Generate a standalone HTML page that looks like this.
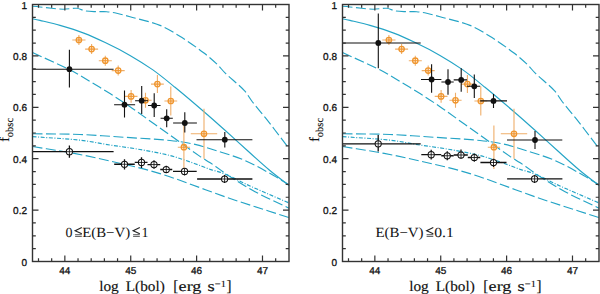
<!DOCTYPE html>
<html><head><meta charset="utf-8"><style>
html,body{margin:0;padding:0;background:#fff;width:600px;height:294px;overflow:hidden}
svg{display:block;text-rendering:geometricPrecision}
.tk{font-family:"Liberation Sans",sans-serif;font-size:10px;fill:#111;stroke:#111;stroke-width:0.3px}
.sf{font-family:"Liberation Serif",serif;fill:#111;}
.xl{stroke:#111;stroke-width:0.15px}
</style></head><body>
<svg width="600" height="294" viewBox="0 0 600 294">
<g transform="translate(0,0)">
<path d="M32.5,18.8 C35.0,19.3 37.5,19.8 40.0,20.4 C46.7,22.0 53.4,23.5 60.0,25.4 C68.0,27.7 76.0,30.1 83.8,33.1 C91.1,35.9 98.2,39.2 105.2,42.6 C113.6,46.6 121.9,50.8 130.0,55.4 C137.8,59.9 145.5,64.7 152.9,69.9 C160.5,75.3 167.8,81.4 175.0,87.3 C184.8,95.3 194.4,103.5 204.0,111.8 C211.1,117.9 218.0,124.1 225.0,130.3 C232.7,137.2 240.2,144.1 247.9,151.0 C255.0,157.4 262.0,163.9 269.3,170.0 C275.7,175.4 282.4,180.3 289.0,185.5" fill="none" stroke="#24a4c6" stroke-width="1.15" />
<path d="M32.5,6.3 C35.0,6.5 37.5,6.7 40.0,7.0 C43.9,7.4 47.8,7.9 51.7,8.3 C55.6,8.7 59.4,9.2 63.3,9.2 C67.8,9.2 72.3,8.0 76.7,8.3 C79.5,8.5 82.2,10.3 85.0,10.8 C88.8,11.5 92.8,11.5 96.7,11.7 C100.0,11.8 103.4,11.4 106.7,11.7 C110.1,12.0 113.4,12.6 116.7,13.3 C121.2,14.3 125.6,15.5 130.0,16.7 C140.0,19.5 150.4,21.5 160.0,25.4 C167.7,28.5 174.9,33.2 182.0,37.6 C189.6,42.4 196.9,47.6 204.0,53.0 C208.7,56.6 213.2,60.5 217.5,64.6 C220.2,67.2 222.3,70.3 225.0,72.9 C231.3,79.0 238.4,84.3 244.4,90.6 C247.6,94.0 249.7,98.3 252.5,102.0 C257.2,108.0 262.2,113.7 266.9,119.7 C274.4,129.2 281.6,138.9 289.0,148.5" fill="none" stroke="#24a4c6" stroke-width="1.15" stroke-dasharray="10 3.5"/>
<path d="M32.5,52.5 C44.8,58.2 57.2,63.6 69.4,69.5 C73.1,71.3 76.5,73.4 80.0,75.5 C90.0,81.5 100.1,87.4 110.0,93.6 C116.8,97.8 123.4,102.2 130.0,106.7 C136.1,110.8 142.0,115.2 148.0,119.5 C152.0,122.3 156.0,125.2 160.0,128.0 C166.3,132.5 172.7,137.0 179.0,141.5 C186.3,146.7 193.6,152.0 201.0,157.1 C204.0,159.1 207.2,160.8 210.2,162.8 C213.7,165.1 217.0,167.5 220.4,169.9 C223.8,172.3 227.1,174.8 230.6,177.0 C238.5,182.0 246.4,187.1 254.6,191.5 C265.8,197.5 277.5,202.6 289.0,208.2" fill="none" stroke="#24a4c6" stroke-width="1.15" stroke-dasharray="10 3.5"/>
<path d="M32.5,133.7 C48.3,134.0 64.2,133.9 80.0,134.5 C93.3,135.0 106.7,136.1 120.0,137.0 C136.7,138.1 153.4,138.9 170.0,140.5 C178.4,141.3 186.8,142.5 195.0,144.4 C203.6,146.4 212.1,149.3 220.5,152.0 C228.7,154.6 237.1,157.0 245.0,160.5 C255.0,164.9 264.5,170.4 274.0,175.7 C279.1,178.6 284.0,181.9 289.0,185.0" fill="none" stroke="#24a4c6" stroke-width="1.15" stroke-dasharray="10 3.5"/>
<path d="M32.5,146.5 C46.4,148.8 60.4,150.8 74.2,153.4 C86.2,155.6 98.1,158.2 110.0,161.0 C126.7,164.9 143.6,168.5 160.0,173.6 C182.4,180.6 204.1,189.6 226.3,197.2 C247.1,204.3 268.1,210.8 289.0,217.6" fill="none" stroke="#24a4c6" stroke-width="1.15" stroke-dasharray="10 3.5"/>
<path d="M32.5,136.6 C48.3,137.8 64.2,138.5 80.0,140.2 C90.1,141.3 100.0,143.4 110.0,145.0 C120.0,146.5 130.0,147.8 140.0,149.5 C150.0,151.3 160.1,153.0 170.0,155.5 C178.5,157.7 186.7,160.8 195.0,163.7 C200.1,165.5 205.1,167.6 210.2,169.4 C213.6,170.5 217.1,171.2 220.4,172.4 C223.9,173.6 227.3,175.0 230.6,176.5 C235.3,178.6 239.7,181.2 244.4,183.4 C251.2,186.6 258.1,189.6 265.0,192.6 C273.0,196.1 281.0,199.5 289.0,203.0" fill="none" stroke="#24a4c6" stroke-width="1.15" stroke-dasharray="4 1.6 1 1.6"/>
<path d="M72.3,40.0H85.5M78.9,35.0V45.0" stroke="#efae6a" stroke-width="1.1" fill="none"/>
<circle cx="78.9" cy="40" r="2.7" fill="none" stroke="#f0962e" stroke-width="1.3"/>
<path d="M76.2,40H81.60000000000001M78.9,37.3V42.7" stroke="#f0962e" stroke-width="0.8" fill="none"/>
<path d="M85.1,49.1H98.1M91.6,44.1V54.1" stroke="#efae6a" stroke-width="1.1" fill="none"/>
<circle cx="91.6" cy="49.1" r="2.7" fill="none" stroke="#f0962e" stroke-width="1.3"/>
<path d="M88.89999999999999,49.1H94.3M91.6,46.4V51.800000000000004" stroke="#f0962e" stroke-width="0.8" fill="none"/>
<path d="M98.8,60.7H111.8M105.3,55.7V65.7" stroke="#efae6a" stroke-width="1.1" fill="none"/>
<circle cx="105.3" cy="60.7" r="2.7" fill="none" stroke="#f0962e" stroke-width="1.3"/>
<path d="M102.6,60.7H108.0M105.3,58.0V63.400000000000006" stroke="#f0962e" stroke-width="0.8" fill="none"/>
<path d="M111.7,70.6H124.7M118.2,65.6V75.6" stroke="#efae6a" stroke-width="1.1" fill="none"/>
<circle cx="118.2" cy="70.6" r="2.7" fill="none" stroke="#f0962e" stroke-width="1.3"/>
<path d="M115.5,70.6H120.9M118.2,67.89999999999999V73.3" stroke="#f0962e" stroke-width="0.8" fill="none"/>
<path d="M124.7,96.4H137.5M131.1,90.0V102.8" stroke="#efae6a" stroke-width="1.1" fill="none"/>
<circle cx="131.1" cy="96.4" r="2.7" fill="none" stroke="#f0962e" stroke-width="1.3"/>
<path d="M128.4,96.4H133.79999999999998M131.1,93.7V99.10000000000001" stroke="#f0962e" stroke-width="0.8" fill="none"/>
<path d="M139.4,100.3H151.6M145.5,92.8V107.8" stroke="#efae6a" stroke-width="1.1" fill="none"/>
<circle cx="145.5" cy="100.3" r="2.7" fill="none" stroke="#f0962e" stroke-width="1.3"/>
<path d="M142.8,100.3H148.2M145.5,97.6V103.0" stroke="#f0962e" stroke-width="0.8" fill="none"/>
<path d="M151.0,84.1H163.8M157.4,75.1V93.1" stroke="#efae6a" stroke-width="1.1" fill="none"/>
<circle cx="157.4" cy="84.1" r="2.7" fill="none" stroke="#f0962e" stroke-width="1.3"/>
<path d="M154.70000000000002,84.1H160.1M157.4,81.39999999999999V86.8" stroke="#f0962e" stroke-width="0.8" fill="none"/>
<path d="M164.4,101.0H177.2M170.8,86.5V115.5" stroke="#efae6a" stroke-width="1.1" fill="none"/>
<circle cx="170.8" cy="101" r="2.7" fill="none" stroke="#f0962e" stroke-width="1.3"/>
<path d="M168.10000000000002,101H173.5M170.8,98.3V103.7" stroke="#f0962e" stroke-width="0.8" fill="none"/>
<path d="M177.8,147.2H190.0M183.9,125.5V168.9" stroke="#efae6a" stroke-width="1.1" fill="none"/>
<circle cx="183.9" cy="147.2" r="2.7" fill="none" stroke="#f0962e" stroke-width="1.3"/>
<path d="M181.20000000000002,147.2H186.6M183.9,144.5V149.89999999999998" stroke="#f0962e" stroke-width="0.8" fill="none"/>
<path d="M190.8,133.8H217.2M204.0,108.8V158.8" stroke="#efae6a" stroke-width="1.1" fill="none"/>
<circle cx="204" cy="133.8" r="2.7" fill="none" stroke="#f0962e" stroke-width="1.3"/>
<path d="M201.3,133.8H206.7M204,131.10000000000002V136.5" stroke="#f0962e" stroke-width="0.8" fill="none"/>
<path d="M32.5,151.7H113.6M69.4,145.6V157.8" stroke="#111" stroke-width="1.3" fill="none"/>
<circle cx="69.4" cy="151.7" r="3.1" fill="#fff" stroke="#111" stroke-width="1.05"/>
<path d="M66.30000000000001,151.7H72.5M69.4,148.6V154.79999999999998" stroke="#111" stroke-width="0.85" fill="none"/>
<path d="M114.2,164.25H134.75M124.5,159.3V169.5" stroke="#111" stroke-width="1.3" fill="none"/>
<circle cx="124.5" cy="164.25" r="3.1" fill="#fff" stroke="#111" stroke-width="1.05"/>
<path d="M121.4,164.25H127.6M124.5,161.15V167.35" stroke="#111" stroke-width="0.85" fill="none"/>
<path d="M134.75,162.45H147.5M141.5,157.2V168" stroke="#111" stroke-width="1.3" fill="none"/>
<circle cx="141.5" cy="162.45" r="3.1" fill="#fff" stroke="#111" stroke-width="1.05"/>
<path d="M138.4,162.45H144.6M141.5,159.35V165.54999999999998" stroke="#111" stroke-width="0.85" fill="none"/>
<path d="M147.5,164.55H160.25M154,160.2V168.75" stroke="#111" stroke-width="1.3" fill="none"/>
<circle cx="154" cy="164.55" r="3.1" fill="#fff" stroke="#111" stroke-width="1.05"/>
<path d="M150.9,164.55H157.1M154,161.45000000000002V167.65" stroke="#111" stroke-width="0.85" fill="none"/>
<path d="M160.25,169.5H172.25M166.25,165.75V173.25" stroke="#111" stroke-width="1.3" fill="none"/>
<circle cx="166.25" cy="169.5" r="3.1" fill="#fff" stroke="#111" stroke-width="1.05"/>
<path d="M163.15,169.5H169.35M166.25,166.4V172.6" stroke="#111" stroke-width="0.85" fill="none"/>
<path d="M173,171.45H196.7M184.55,168V175.5" stroke="#111" stroke-width="1.3" fill="none"/>
<circle cx="184.55" cy="171.45" r="3.1" fill="#fff" stroke="#111" stroke-width="1.05"/>
<path d="M181.45000000000002,171.45H187.65M184.55,168.35V174.54999999999998" stroke="#111" stroke-width="0.85" fill="none"/>
<path d="M197.1,179H252.4M224.6,175V183" stroke="#111" stroke-width="1.3" fill="none"/>
<circle cx="224.6" cy="179" r="3.1" fill="#fff" stroke="#111" stroke-width="1.05"/>
<path d="M221.5,179H227.7M224.6,175.9V182.1" stroke="#111" stroke-width="0.85" fill="none"/>
<path d="M32.5,69.2H113.6M69.4,49.8V87.5" stroke="#111" stroke-width="1.1" fill="none"/>
<circle cx="69.4" cy="69.2" r="2.9" fill="#111"/>
<path d="M114.1,104.7H135.1M124.5,90.6V117.4" stroke="#111" stroke-width="1.1" fill="none"/>
<circle cx="124.5" cy="104.7" r="2.9" fill="#111"/>
<path d="M135.1,100.7H148M141.7,86.1V114" stroke="#111" stroke-width="1.1" fill="none"/>
<circle cx="141.7" cy="100.7" r="2.9" fill="#111"/>
<path d="M148,105.5H160.5M154.2,93.3V117" stroke="#111" stroke-width="1.1" fill="none"/>
<circle cx="154.2" cy="105.5" r="2.9" fill="#111"/>
<path d="M160.6,118.3H172.8M166.7,109.2V127.2" stroke="#111" stroke-width="1.1" fill="none"/>
<circle cx="166.7" cy="118.3" r="2.9" fill="#111"/>
<path d="M173.1,123H196.9M184.8,112.2V132.6" stroke="#111" stroke-width="1.1" fill="none"/>
<circle cx="184.8" cy="123" r="2.9" fill="#111"/>
<path d="M196.5,139.7H252.4M224.8,132.1V147.5" stroke="#111" stroke-width="1.1" fill="none"/>
<circle cx="224.8" cy="139.7" r="2.9" fill="#111"/>
<rect x="32.5" y="4.5" width="256.5" height="257" fill="none" stroke="#333" stroke-width="1.4"/>
<path d="M32.5,261.50h6M289,261.50h-6M32.5,248.65h3.3M289,248.65h-3.3M32.5,235.80h3.3M289,235.80h-3.3M32.5,222.95h3.3M289,222.95h-3.3M32.5,210.10h6M289,210.10h-6M32.5,197.25h3.3M289,197.25h-3.3M32.5,184.40h3.3M289,184.40h-3.3M32.5,171.55h3.3M289,171.55h-3.3M32.5,158.70h6M289,158.70h-6M32.5,145.85h3.3M289,145.85h-3.3M32.5,133.00h3.3M289,133.00h-3.3M32.5,120.15h3.3M289,120.15h-3.3M32.5,107.30h6M289,107.30h-6M32.5,94.45h3.3M289,94.45h-3.3M32.5,81.60h3.3M289,81.60h-3.3M32.5,68.75h3.3M289,68.75h-3.3M32.5,55.90h6M289,55.90h-6M32.5,43.05h3.3M289,43.05h-3.3M32.5,30.20h3.3M289,30.20h-3.3M32.5,17.35h3.3M289,17.35h-3.3M32.5,4.50h6M289,4.50h-6M38.50,261.5v-3.3M38.50,4.5v3.3M51.67,261.5v-3.3M51.67,4.5v3.3M64.85,261.5v-6M64.85,4.5v6M78.03,261.5v-3.3M78.03,4.5v3.3M91.20,261.5v-3.3M91.20,4.5v3.3M104.38,261.5v-3.3M104.38,4.5v3.3M117.55,261.5v-3.3M117.55,4.5v3.3M130.73,261.5v-6M130.73,4.5v6M143.91,261.5v-3.3M143.91,4.5v3.3M157.08,261.5v-3.3M157.08,4.5v3.3M170.26,261.5v-3.3M170.26,4.5v3.3M183.43,261.5v-3.3M183.43,4.5v3.3M196.61,261.5v-6M196.61,4.5v6M209.79,261.5v-3.3M209.79,4.5v3.3M222.96,261.5v-3.3M222.96,4.5v3.3M236.14,261.5v-3.3M236.14,4.5v3.3M249.31,261.5v-3.3M249.31,4.5v3.3M262.49,261.5v-6M262.49,4.5v6M275.67,261.5v-3.3M275.67,4.5v3.3" stroke="#333" stroke-width="1.2" fill="none"/>
<text x="27" y="265.5" text-anchor="end" class="tk">0</text>
<text x="27" y="214.1" text-anchor="end" class="tk">0.2</text>
<text x="27" y="162.7" text-anchor="end" class="tk">0.4</text>
<text x="27" y="111.3" text-anchor="end" class="tk">0.6</text>
<text x="27" y="59.9" text-anchor="end" class="tk">0.8</text>
<text x="27" y="8.5" text-anchor="end" class="tk">1</text>
<text x="64.8" y="273.9" text-anchor="middle" class="tk">44</text>
<text x="130.7" y="273.9" text-anchor="middle" class="tk">45</text>
<text x="196.6" y="273.9" text-anchor="middle" class="tk">46</text>
<text x="262.5" y="273.9" text-anchor="middle" class="tk">47</text>
<text class="sf xl" x="99.2" y="291" font-size="14.6" textLength="19.6" lengthAdjust="spacingAndGlyphs">log</text>
<text class="sf xl" x="125.8" y="291" font-size="14.6" textLength="39" lengthAdjust="spacingAndGlyphs">L(bol)</text>
<text class="sf xl" x="173.3" y="291.4" font-size="15.5" textLength="5" lengthAdjust="spacingAndGlyphs">[</text>
<text class="sf xl" x="178.6" y="291" font-size="14.6" textLength="22.8" lengthAdjust="spacingAndGlyphs">erg</text>
<text class="sf xl" x="207.6" y="291" font-size="14.6" textLength="7.2" lengthAdjust="spacingAndGlyphs">s</text>
<text class="sf xl" x="214.8" y="286.8" font-size="9.5" textLength="11" lengthAdjust="spacingAndGlyphs">&#8722;1</text>
<text class="sf xl" x="226.4" y="291.4" font-size="15.5" textLength="5" lengthAdjust="spacingAndGlyphs">]</text>
<text class="sf xl" transform="translate(8.6,141.8) rotate(-90)" font-size="14">f<tspan font-size="10.5" dy="4.8">obsc</tspan></text>
<text class="sf" x="65.6" y="236.5" font-size="14" textLength="7" lengthAdjust="spacingAndGlyphs">0</text><path d="M81.8,227.4L75.1,230.70000000000002L81.8,233.8" fill="none" stroke="#222" stroke-width="1.1"/><path d="M75.1,234.70000000000002H81.8M75.1,236.4H81.8" stroke="#444" stroke-width="0.9"/><text class="sf" x="82.2" y="236.5" font-size="14" textLength="48" lengthAdjust="spacingAndGlyphs">E(B&#8722;V)</text><path d="M139.79999999999998,227.4L133.1,230.70000000000002L139.79999999999998,233.8" fill="none" stroke="#222" stroke-width="1.1"/><path d="M133.1,234.70000000000002H139.79999999999998M133.1,236.4H139.79999999999998" stroke="#444" stroke-width="0.9"/><text class="sf" x="141.4" y="236.5" font-size="14">1</text>
</g>
<g transform="translate(310,0)">
<path d="M32.5,18.8 C35.0,19.3 37.5,19.8 40.0,20.4 C46.7,22.0 53.4,23.5 60.0,25.4 C68.0,27.7 76.0,30.1 83.8,33.1 C91.1,35.9 98.2,39.2 105.2,42.6 C113.6,46.6 121.9,50.8 130.0,55.4 C137.8,59.9 145.5,64.7 152.9,69.9 C160.5,75.3 167.8,81.4 175.0,87.3 C184.8,95.3 194.4,103.5 204.0,111.8 C211.1,117.9 218.0,124.1 225.0,130.3 C232.7,137.2 240.2,144.1 247.9,151.0 C255.0,157.4 262.0,163.9 269.3,170.0 C275.7,175.4 282.4,180.3 289.0,185.5" fill="none" stroke="#24a4c6" stroke-width="1.15" />
<path d="M32.5,6.3 C35.0,6.5 37.5,6.7 40.0,7.0 C43.9,7.4 47.8,7.9 51.7,8.3 C55.6,8.7 59.4,9.2 63.3,9.2 C67.8,9.2 72.3,8.0 76.7,8.3 C79.5,8.5 82.2,10.3 85.0,10.8 C88.8,11.5 92.8,11.5 96.7,11.7 C100.0,11.8 103.4,11.4 106.7,11.7 C110.1,12.0 113.4,12.6 116.7,13.3 C121.2,14.3 125.6,15.5 130.0,16.7 C140.0,19.5 150.4,21.5 160.0,25.4 C167.7,28.5 174.9,33.2 182.0,37.6 C189.6,42.4 196.9,47.6 204.0,53.0 C208.7,56.6 213.2,60.5 217.5,64.6 C220.2,67.2 222.3,70.3 225.0,72.9 C231.3,79.0 238.4,84.3 244.4,90.6 C247.6,94.0 249.7,98.3 252.5,102.0 C257.2,108.0 262.2,113.7 266.9,119.7 C274.4,129.2 281.6,138.9 289.0,148.5" fill="none" stroke="#24a4c6" stroke-width="1.15" stroke-dasharray="10 3.5"/>
<path d="M32.5,52.5 C44.8,58.2 57.2,63.6 69.4,69.5 C73.1,71.3 76.5,73.4 80.0,75.5 C90.0,81.5 100.1,87.4 110.0,93.6 C116.8,97.8 123.4,102.2 130.0,106.7 C136.1,110.8 142.0,115.2 148.0,119.5 C152.0,122.3 156.0,125.2 160.0,128.0 C166.3,132.5 172.7,137.0 179.0,141.5 C186.3,146.7 193.6,152.0 201.0,157.1 C204.0,159.1 207.2,160.8 210.2,162.8 C213.7,165.1 217.0,167.5 220.4,169.9 C223.8,172.3 227.1,174.8 230.6,177.0 C238.5,182.0 246.4,187.1 254.6,191.5 C265.8,197.5 277.5,202.6 289.0,208.2" fill="none" stroke="#24a4c6" stroke-width="1.15" stroke-dasharray="10 3.5"/>
<path d="M32.5,133.7 C48.3,134.0 64.2,133.9 80.0,134.5 C93.3,135.0 106.7,136.1 120.0,137.0 C136.7,138.1 153.4,138.9 170.0,140.5 C178.4,141.3 186.8,142.5 195.0,144.4 C203.6,146.4 212.1,149.3 220.5,152.0 C228.7,154.6 237.1,157.0 245.0,160.5 C255.0,164.9 264.5,170.4 274.0,175.7 C279.1,178.6 284.0,181.9 289.0,185.0" fill="none" stroke="#24a4c6" stroke-width="1.15" stroke-dasharray="10 3.5"/>
<path d="M32.5,146.5 C46.4,148.8 60.4,150.8 74.2,153.4 C86.2,155.6 98.1,158.2 110.0,161.0 C126.7,164.9 143.6,168.5 160.0,173.6 C182.4,180.6 204.1,189.6 226.3,197.2 C247.1,204.3 268.1,210.8 289.0,217.6" fill="none" stroke="#24a4c6" stroke-width="1.15" stroke-dasharray="10 3.5"/>
<path d="M32.5,136.6 C48.3,137.8 64.2,138.5 80.0,140.2 C90.1,141.3 100.0,143.4 110.0,145.0 C120.0,146.5 130.0,147.8 140.0,149.5 C150.0,151.3 160.1,153.0 170.0,155.5 C178.5,157.7 186.7,160.8 195.0,163.7 C200.1,165.5 205.1,167.6 210.2,169.4 C213.6,170.5 217.1,171.2 220.4,172.4 C223.9,173.6 227.3,175.0 230.6,176.5 C235.3,178.6 239.7,181.2 244.4,183.4 C251.2,186.6 258.1,189.6 265.0,192.6 C273.0,196.1 281.0,199.5 289.0,203.0" fill="none" stroke="#24a4c6" stroke-width="1.15" stroke-dasharray="4 1.6 1 1.6"/>
<path d="M72.3,40.0H85.5M78.9,35.0V45.0" stroke="#efae6a" stroke-width="1.1" fill="none"/>
<circle cx="78.9" cy="40" r="2.7" fill="none" stroke="#f0962e" stroke-width="1.3"/>
<path d="M76.2,40H81.60000000000001M78.9,37.3V42.7" stroke="#f0962e" stroke-width="0.8" fill="none"/>
<path d="M85.1,49.1H98.1M91.6,44.1V54.1" stroke="#efae6a" stroke-width="1.1" fill="none"/>
<circle cx="91.6" cy="49.1" r="2.7" fill="none" stroke="#f0962e" stroke-width="1.3"/>
<path d="M88.89999999999999,49.1H94.3M91.6,46.4V51.800000000000004" stroke="#f0962e" stroke-width="0.8" fill="none"/>
<path d="M98.8,60.7H111.8M105.3,55.7V65.7" stroke="#efae6a" stroke-width="1.1" fill="none"/>
<circle cx="105.3" cy="60.7" r="2.7" fill="none" stroke="#f0962e" stroke-width="1.3"/>
<path d="M102.6,60.7H108.0M105.3,58.0V63.400000000000006" stroke="#f0962e" stroke-width="0.8" fill="none"/>
<path d="M111.7,70.6H124.7M118.2,65.6V75.6" stroke="#efae6a" stroke-width="1.1" fill="none"/>
<circle cx="118.2" cy="70.6" r="2.7" fill="none" stroke="#f0962e" stroke-width="1.3"/>
<path d="M115.5,70.6H120.9M118.2,67.89999999999999V73.3" stroke="#f0962e" stroke-width="0.8" fill="none"/>
<path d="M124.7,96.4H137.5M131.1,90.0V102.8" stroke="#efae6a" stroke-width="1.1" fill="none"/>
<circle cx="131.1" cy="96.4" r="2.7" fill="none" stroke="#f0962e" stroke-width="1.3"/>
<path d="M128.4,96.4H133.79999999999998M131.1,93.7V99.10000000000001" stroke="#f0962e" stroke-width="0.8" fill="none"/>
<path d="M139.4,100.3H151.6M145.5,92.8V107.8" stroke="#efae6a" stroke-width="1.1" fill="none"/>
<circle cx="145.5" cy="100.3" r="2.7" fill="none" stroke="#f0962e" stroke-width="1.3"/>
<path d="M142.8,100.3H148.2M145.5,97.6V103.0" stroke="#f0962e" stroke-width="0.8" fill="none"/>
<path d="M151.0,84.1H163.8M157.4,75.1V93.1" stroke="#efae6a" stroke-width="1.1" fill="none"/>
<circle cx="157.4" cy="84.1" r="2.7" fill="none" stroke="#f0962e" stroke-width="1.3"/>
<path d="M154.70000000000002,84.1H160.1M157.4,81.39999999999999V86.8" stroke="#f0962e" stroke-width="0.8" fill="none"/>
<path d="M164.4,101.0H177.2M170.8,86.5V115.5" stroke="#efae6a" stroke-width="1.1" fill="none"/>
<circle cx="170.8" cy="101" r="2.7" fill="none" stroke="#f0962e" stroke-width="1.3"/>
<path d="M168.10000000000002,101H173.5M170.8,98.3V103.7" stroke="#f0962e" stroke-width="0.8" fill="none"/>
<path d="M177.8,147.2H190.0M183.9,125.5V168.9" stroke="#efae6a" stroke-width="1.1" fill="none"/>
<circle cx="183.9" cy="147.2" r="2.7" fill="none" stroke="#f0962e" stroke-width="1.3"/>
<path d="M181.20000000000002,147.2H186.6M183.9,144.5V149.89999999999998" stroke="#f0962e" stroke-width="0.8" fill="none"/>
<path d="M190.8,133.8H217.2M204.0,108.8V158.8" stroke="#efae6a" stroke-width="1.1" fill="none"/>
<circle cx="204" cy="133.8" r="2.7" fill="none" stroke="#f0962e" stroke-width="1.3"/>
<path d="M201.3,133.8H206.7M204,131.10000000000002V136.5" stroke="#f0962e" stroke-width="0.8" fill="none"/>
<path d="M32.19999999999999,143.8H110.69999999999999M68.19999999999999,135V151.5" stroke="#111" stroke-width="1.3" fill="none"/>
<circle cx="68.19999999999999" cy="143.8" r="3.1" fill="#fff" stroke="#111" stroke-width="1.05"/>
<path d="M65.1,143.8H71.29999999999998M68.19999999999999,140.70000000000002V146.9" stroke="#111" stroke-width="0.85" fill="none"/>
<path d="M111.30000000000001,154.7H131.25M121.19999999999999,149.75V159.5" stroke="#111" stroke-width="1.3" fill="none"/>
<circle cx="121.19999999999999" cy="154.7" r="3.1" fill="#fff" stroke="#111" stroke-width="1.05"/>
<path d="M118.1,154.7H124.29999999999998M121.19999999999999,151.6V157.79999999999998" stroke="#111" stroke-width="0.85" fill="none"/>
<path d="M131.25,155.75H143.7M137.25,151.25V160.25" stroke="#111" stroke-width="1.3" fill="none"/>
<circle cx="137.25" cy="155.75" r="3.1" fill="#fff" stroke="#111" stroke-width="1.05"/>
<path d="M134.15,155.75H140.35M137.25,152.65V158.85" stroke="#111" stroke-width="0.85" fill="none"/>
<path d="M143.7,155H157.8M151,149.5V158.75" stroke="#111" stroke-width="1.3" fill="none"/>
<circle cx="151" cy="155" r="3.1" fill="#fff" stroke="#111" stroke-width="1.05"/>
<path d="M147.9,155H154.1M151,151.9V158.1" stroke="#111" stroke-width="0.85" fill="none"/>
<path d="M157.8,157.5H170.25M164.3,153.5V161.75" stroke="#111" stroke-width="1.3" fill="none"/>
<circle cx="164.3" cy="157.5" r="3.1" fill="#fff" stroke="#111" stroke-width="1.05"/>
<path d="M161.20000000000002,157.5H167.4M164.3,154.4V160.6" stroke="#111" stroke-width="0.85" fill="none"/>
<path d="M170.39999999999998,162.5H196.5M183.5,158.75V167" stroke="#111" stroke-width="1.3" fill="none"/>
<circle cx="183.5" cy="162.5" r="3.1" fill="#fff" stroke="#111" stroke-width="1.05"/>
<path d="M180.4,162.5H186.6M183.5,159.4V165.6" stroke="#111" stroke-width="0.85" fill="none"/>
<path d="M197.10000000000002,178.9H252.39999999999998M224.60000000000002,175V183" stroke="#111" stroke-width="1.3" fill="none"/>
<circle cx="224.60000000000002" cy="178.9" r="3.1" fill="#fff" stroke="#111" stroke-width="1.05"/>
<path d="M221.50000000000003,178.9H227.70000000000002M224.60000000000002,175.8V182.0" stroke="#111" stroke-width="0.85" fill="none"/>
<path d="M32.19999999999999,43H110.69999999999999M68.30000000000001,13.5V68.3" stroke="#111" stroke-width="1.1" fill="none"/>
<circle cx="68.30000000000001" cy="43" r="2.9" fill="#111"/>
<path d="M111,79.5H131.39999999999998M121.60000000000002,64.2V92.8" stroke="#111" stroke-width="1.1" fill="none"/>
<circle cx="121.60000000000002" cy="79.5" r="2.9" fill="#111"/>
<path d="M131.39999999999998,82H143.7M138,69.3V94.8" stroke="#111" stroke-width="1.1" fill="none"/>
<circle cx="138" cy="82" r="2.9" fill="#111"/>
<path d="M143.7,79.9H157M151.2,68.3V91.7" stroke="#111" stroke-width="1.1" fill="none"/>
<circle cx="151.2" cy="79.9" r="2.9" fill="#111"/>
<path d="M157,86.3H170.2M164.3,74.4V97.9" stroke="#111" stroke-width="1.1" fill="none"/>
<circle cx="164.3" cy="86.3" r="2.9" fill="#111"/>
<path d="M170.2,100.9H197M183.5,94V108" stroke="#111" stroke-width="1.1" fill="none"/>
<circle cx="183.5" cy="100.9" r="2.9" fill="#111"/>
<path d="M197,140H252.29999999999995M225,131V148.9" stroke="#111" stroke-width="1.1" fill="none"/>
<circle cx="225" cy="140" r="2.9" fill="#111"/>
<rect x="32.5" y="4.5" width="256.5" height="257" fill="none" stroke="#333" stroke-width="1.4"/>
<path d="M32.5,261.50h6M289,261.50h-6M32.5,248.65h3.3M289,248.65h-3.3M32.5,235.80h3.3M289,235.80h-3.3M32.5,222.95h3.3M289,222.95h-3.3M32.5,210.10h6M289,210.10h-6M32.5,197.25h3.3M289,197.25h-3.3M32.5,184.40h3.3M289,184.40h-3.3M32.5,171.55h3.3M289,171.55h-3.3M32.5,158.70h6M289,158.70h-6M32.5,145.85h3.3M289,145.85h-3.3M32.5,133.00h3.3M289,133.00h-3.3M32.5,120.15h3.3M289,120.15h-3.3M32.5,107.30h6M289,107.30h-6M32.5,94.45h3.3M289,94.45h-3.3M32.5,81.60h3.3M289,81.60h-3.3M32.5,68.75h3.3M289,68.75h-3.3M32.5,55.90h6M289,55.90h-6M32.5,43.05h3.3M289,43.05h-3.3M32.5,30.20h3.3M289,30.20h-3.3M32.5,17.35h3.3M289,17.35h-3.3M32.5,4.50h6M289,4.50h-6M38.50,261.5v-3.3M38.50,4.5v3.3M51.67,261.5v-3.3M51.67,4.5v3.3M64.85,261.5v-6M64.85,4.5v6M78.03,261.5v-3.3M78.03,4.5v3.3M91.20,261.5v-3.3M91.20,4.5v3.3M104.38,261.5v-3.3M104.38,4.5v3.3M117.55,261.5v-3.3M117.55,4.5v3.3M130.73,261.5v-6M130.73,4.5v6M143.91,261.5v-3.3M143.91,4.5v3.3M157.08,261.5v-3.3M157.08,4.5v3.3M170.26,261.5v-3.3M170.26,4.5v3.3M183.43,261.5v-3.3M183.43,4.5v3.3M196.61,261.5v-6M196.61,4.5v6M209.79,261.5v-3.3M209.79,4.5v3.3M222.96,261.5v-3.3M222.96,4.5v3.3M236.14,261.5v-3.3M236.14,4.5v3.3M249.31,261.5v-3.3M249.31,4.5v3.3M262.49,261.5v-6M262.49,4.5v6M275.67,261.5v-3.3M275.67,4.5v3.3" stroke="#333" stroke-width="1.2" fill="none"/>
<text x="27" y="265.5" text-anchor="end" class="tk">0</text>
<text x="27" y="214.1" text-anchor="end" class="tk">0.2</text>
<text x="27" y="162.7" text-anchor="end" class="tk">0.4</text>
<text x="27" y="111.3" text-anchor="end" class="tk">0.6</text>
<text x="27" y="59.9" text-anchor="end" class="tk">0.8</text>
<text x="27" y="8.5" text-anchor="end" class="tk">1</text>
<text x="64.8" y="273.9" text-anchor="middle" class="tk">44</text>
<text x="130.7" y="273.9" text-anchor="middle" class="tk">45</text>
<text x="196.6" y="273.9" text-anchor="middle" class="tk">46</text>
<text x="262.5" y="273.9" text-anchor="middle" class="tk">47</text>
<text class="sf xl" x="99.2" y="291" font-size="14.6" textLength="19.6" lengthAdjust="spacingAndGlyphs">log</text>
<text class="sf xl" x="125.8" y="291" font-size="14.6" textLength="39" lengthAdjust="spacingAndGlyphs">L(bol)</text>
<text class="sf xl" x="173.3" y="291.4" font-size="15.5" textLength="5" lengthAdjust="spacingAndGlyphs">[</text>
<text class="sf xl" x="178.6" y="291" font-size="14.6" textLength="22.8" lengthAdjust="spacingAndGlyphs">erg</text>
<text class="sf xl" x="207.6" y="291" font-size="14.6" textLength="7.2" lengthAdjust="spacingAndGlyphs">s</text>
<text class="sf xl" x="214.8" y="286.8" font-size="9.5" textLength="11" lengthAdjust="spacingAndGlyphs">&#8722;1</text>
<text class="sf xl" x="226.4" y="291.4" font-size="15.5" textLength="5" lengthAdjust="spacingAndGlyphs">]</text>
<text class="sf xl" transform="translate(8.6,141.8) rotate(-90)" font-size="14">f<tspan font-size="10.5" dy="4.8">obsc</tspan></text>
<text class="sf" x="65.4" y="236.5" font-size="14" textLength="48.2" lengthAdjust="spacingAndGlyphs">E(B&#8722;V)</text><path d="M123.3,227.4L116.6,230.70000000000002L123.3,233.8" fill="none" stroke="#222" stroke-width="1.1"/><path d="M116.6,234.70000000000002H123.3M116.6,236.4H123.3" stroke="#444" stroke-width="0.9"/><text class="sf" x="124.2" y="236.5" font-size="14" textLength="19.6" lengthAdjust="spacingAndGlyphs">0.1</text>
</g>
</svg></body></html>
